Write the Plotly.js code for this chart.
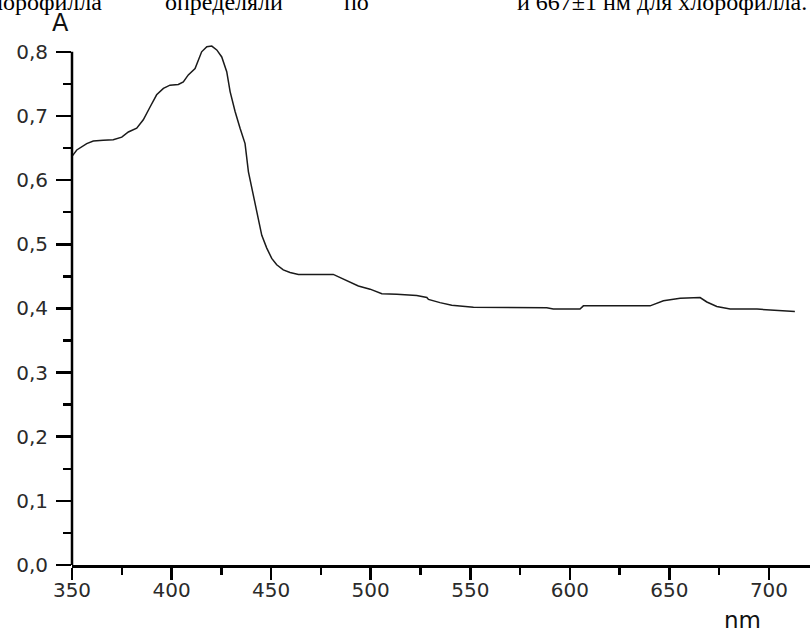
<!DOCTYPE html>
<html>
<head>
<meta charset="utf-8">
<script src="https://cdn.plot.ly/plotly-3.0.1.min.js"></script>
<style>
html,body{margin:0;padding:0;background:#fff;overflow:hidden;}
#chart{width:810px;height:632px;}
</style>
</head>
<body>
<div id="chart"></div>
<script>
// Wavelength, nm
const wavelength = [350, 352.4, 357.4, 360.7, 365.7, 370.7, 375, 378.3, 382.5, 385.8, 389.2, 392.5, 395.9, 399.2, 403.4, 405.9, 408.4, 411.8, 415.1, 417.7, 420.2, 422.7, 425.2, 427.7, 429.4, 431.9, 434.4, 436.9, 438.6, 440.3, 441.9, 443.6, 445.3, 447.8, 450.3, 452.8, 456.1, 459.5, 463.7, 481.2, 485.5, 490.5, 493.8, 499.7, 505.6, 513.1, 523.1, 528.2, 529.0, 534.8, 540.7, 551.6, 588.4, 591.7, 605.1, 606.8, 640.3, 647.0, 655.4, 665.4, 668.8, 673.8, 680.5, 694, 704, 713];
// Absorbance A
const absorbance = [0.637, 0.647, 0.657, 0.661, 0.662, 0.663, 0.667, 0.675, 0.681, 0.694, 0.714, 0.733, 0.743, 0.748, 0.749, 0.753, 0.764, 0.774, 0.800, 0.808, 0.809, 0.803, 0.792, 0.769, 0.738, 0.707, 0.681, 0.657, 0.613, 0.587, 0.566, 0.535, 0.514, 0.494, 0.478, 0.468, 0.460, 0.456, 0.453, 0.453, 0.447, 0.440, 0.435, 0.430, 0.423, 0.422, 0.420, 0.417, 0.414, 0.409, 0.405, 0.402, 0.401, 0.399, 0.399, 0.404, 0.404, 0.412, 0.416, 0.417, 0.410, 0.403, 0.399, 0.399, 0.397, 0.395];
const xTicks = [350, 400, 450, 500, 550, 600, 650, 700];
const yTicks = [0, 0.1, 0.2, 0.3, 0.4, 0.5, 0.6, 0.7, 0.8];
const yTickText = ['0,0', '0,1', '0,2', '0,3', '0,4', '0,5', '0,6', '0,7', '0,8'];
// Clipped line of body text above the chart (justified, so pieces placed separately)
const topWords = ['хлорофилла', 'определяли', 'по', 'и 667±1 нм для хлорофилла.'];
const topWordX = [104, 163, 342, 809];
const topWordAnchor = ['right', 'left', 'left', 'right'];

const tickFont = {family: 'DejaVu Sans, Arial, sans-serif', size: 20, color: '#2a2a2a'};
const serif = {family: 'Liberation Serif, Times New Roman, serif', size: 24, color: '#000'};

const trace = {
  x: wavelength, y: absorbance, type: 'scatter', mode: 'lines',
  line: {color: '#1a1a1a', width: 1.5}, hoverinfo: 'skip'
};

const L = 72, W = 738, B = 565, H = 526;
const px2x = p => (p - L) / W;
const py2y = p => (B - p) / H;

const annotations = [
  {text: 'A', xref: 'paper', yref: 'paper', x: px2x(60), y: py2y(23),
   xanchor: 'center', yanchor: 'middle', showarrow: false,
   font: {family: 'DejaVu Sans, Arial, sans-serif', size: 24, color: '#111'}},
  {text: 'nm', xref: 'paper', yref: 'paper', x: px2x(742), y: py2y(620),
   xanchor: 'center', yanchor: 'middle', showarrow: false,
   font: {family: 'DejaVu Sans, Arial, sans-serif', size: 23, color: '#111'}}
];
topWords.forEach((w, i) => {
  annotations.push({text: w, xref: 'paper', yref: 'paper', x: px2x(topWordX[i]), y: py2y(17),
    xanchor: topWordAnchor[i], yanchor: 'bottom', showarrow: false, font: serif});
});

const layout = {
  width: 810, height: 632,
  margin: {l: L, r: 0, t: 39, b: 67},
  paper_bgcolor: '#fff', plot_bgcolor: '#fff',
  showlegend: false,
  xaxis: {
    range: [350, 720.6], tickvals: xTicks, ticktext: xTicks.map(String),
    showgrid: false, zeroline: false, showline: true, linecolor: '#000', linewidth: 2.5,
    ticks: 'outside', ticklen: 12, tickwidth: 2.5, tickcolor: '#000',
    minor: {dtick: 25, tick0: 350, ticks: 'outside', ticklen: 7, tickwidth: 2.5, tickcolor: '#000', showgrid: false},
    tickfont: tickFont, ticklabelstandoff: -7
  },
  yaxis: {
    range: [0, 0.82], tickvals: yTicks, ticktext: yTickText,
    showgrid: false, zeroline: false, showline: false,
    ticks: 'outside', ticklen: 15, tickwidth: 2.5, tickcolor: '#000',
    minor: {dtick: 0.05, tick0: 0, ticks: 'outside', ticklen: 8, tickwidth: 2.5, tickcolor: '#000', showgrid: false},
    tickfont: tickFont, ticklabelstandoff: 4
  },
  shapes: [
    {type: 'line', xref: 'paper', yref: 'y', x0: 0, x1: 0, y0: 0, y1: 0.8,
     line: {color: '#000', width: 2.5}, layer: 'above'}
  ],
  annotations: annotations
};

Plotly.newPlot('chart', [trace], layout, {staticPlot: true, displayModeBar: false});
</script>
</body>
</html>
